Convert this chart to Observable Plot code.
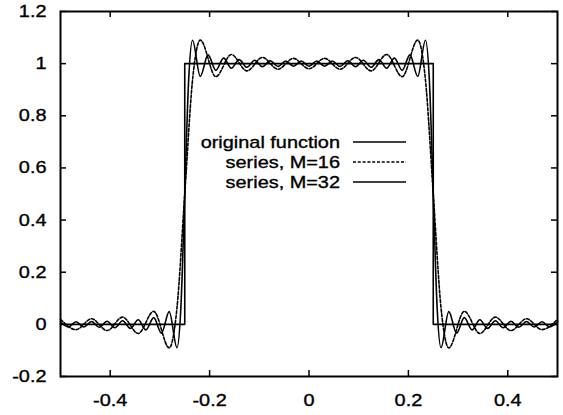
<!DOCTYPE html>
<html><head><meta charset="utf-8">
<script src="https://cdn.jsdelivr.net/npm/d3@7"></script>
<script src="https://cdn.jsdelivr.net/npm/@observablehq/plot@0.6"></script>
<style>
html,body{margin:0;padding:0;background:#fff;}
#wrap{position:relative;width:563px;height:415px;overflow:hidden;}
</style></head><body><div id="wrap"></div>
<script>
// ---- data ----
const origX = [-0.5, -0.25, -0.25, 0.25, 0.25, 0.5];
const origY = [0, 0, 1, 1, 0, 0];

const m16X = [-0.5,-0.46875,-0.4375,-0.40625,-0.375,-0.34375,-0.3125,-0.28125,
  -0.265625,-0.25,-0.234375,
  -0.21875,-0.1875,-0.15625,-0.125,-0.09375,-0.0625,-0.03125,
  0,
  0.03125,0.0625,0.09375,0.125,0.15625,0.1875,0.21875,
  0.234375,0.25,0.265625,
  0.28125,0.3125,0.34375,0.375,0.40625,0.4375,0.46875,0.5];
const m16Y = [0.0198,-0.0202,0.0214,-0.0238,0.0278,-0.0351,0.0499,-0.0902,
  0.0636,0.5,0.9364,
  1.0902,0.9501,1.0351,0.9722,1.0238,0.9786,1.0202,
  0.9802,
  1.0202,0.9786,1.0238,0.9722,1.0351,0.9501,1.0902,
  0.9364,0.5,0.0636,
  -0.0902,0.0499,-0.0351,0.0278,-0.0238,0.0214,-0.0202,0.0198];

const m32X = [-0.5,-0.484375,-0.46875,-0.453125,-0.4375,-0.421875,-0.40625,-0.390625,
  -0.375,-0.359375,-0.34375,-0.328125,-0.3125,-0.296875,-0.28125,-0.265625,
  -0.2578125,-0.25,-0.2421875,
  -0.234375,-0.21875,-0.203125,-0.1875,-0.171875,-0.15625,-0.140625,-0.125,
  -0.109375,-0.09375,-0.078125,-0.0625,-0.046875,-0.03125,-0.015625,
  0,
  0.015625,0.03125,0.046875,0.0625,0.078125,0.09375,0.109375,0.125,
  0.140625,0.15625,0.171875,0.1875,0.203125,0.21875,0.234375,
  0.2421875,0.25,0.2578125,
  0.265625,0.28125,0.296875,0.3125,0.328125,0.34375,0.359375,0.375,
  0.390625,0.40625,0.421875,0.4375,0.453125,0.46875,0.484375,0.5];
const m32Y = [0.0099,-0.0100,0.0102,-0.0104,0.0108,-0.0113,0.0120,-0.0129,
  0.0140,-0.0156,0.0178,-0.0210,0.0257,-0.0336,0.0489,-0.0897,
  0.0637,0.5,0.9363,
  1.0897,0.9511,1.0336,0.9743,1.0210,0.9822,1.0156,0.9860,
  1.0129,0.9880,1.0113,0.9892,1.0104,0.9898,1.0100,
  0.9901,
  1.0100,0.9898,1.0104,0.9892,1.0113,0.9880,1.0129,0.9860,
  1.0156,0.9822,1.0210,0.9743,1.0336,0.9511,1.0897,
  0.9363,0.5,0.0637,
  -0.0897,0.0489,-0.0336,0.0257,-0.0210,0.0178,-0.0156,0.0140,
  -0.0129,0.0120,-0.0113,0.0108,-0.0104,0.0102,-0.0100,0.0099];

const xTicks = [-0.4, -0.2, 0, 0.2, 0.4];
const xTickLabels = ["-0.4", "-0.2", "0", "0.2", "0.4"];
const yTicks = [-0.2, 0, 0.2, 0.4, 0.6, 0.8, 1, 1.2];
const yTickLabels = ["-0.2", "0", "0.2", "0.4", "0.6", "0.8", "1", "1.2"];
const legendLabels = ["original function", "series, M=16", "series, M=32"];
const legendDash = [null, "3,1.8", null];

// ---- layout ----
const W = 563, H = 415, mL = 60, mR = 6, mT = 11, mB = 39;
const innerW = W - mL - mR, innerH = H - mT - mB, tk = 6;
const STRETCH = 1.17;
const LW = 1.6;

const orig = origX.map((x, i) => ({x, y: origY[i]}));
const s16 = m16X.map((x, i) => ({x, y: m16Y[i]}));
const s32 = m32X.map((x, i) => ({x, y: m32Y[i]}));

const chart = Plot.plot({
  width: W, height: H,
  marginLeft: mL, marginRight: mR, marginTop: mT, marginBottom: mB,
  style: {fontFamily: "'Liberation Sans', Arial, sans-serif", fontSize: "17px", color: "black", background: "white"},
  x: {domain: [-0.5, 0.5]},
  y: {domain: [-0.2, 1.2]},
  marks: [
    Plot.line(orig, {x: "x", y: "y", stroke: "black", strokeWidth: LW}),
    Plot.line(s16, {x: "x", y: "y", stroke: "black", strokeWidth: LW, strokeDasharray: "3,1.8", curve: "monotone-x"}),
    Plot.line(s32, {x: "x", y: "y", stroke: "black", strokeWidth: LW, curve: "monotone-x"}),
    Plot.tickX(xTicks, {x: d => d, insetTop: innerH - tk, stroke: "black", strokeWidth: 1.5}),
    Plot.tickX(xTicks, {x: d => d, insetBottom: innerH - tk, stroke: "black", strokeWidth: 1.5}),
    Plot.tickY(yTicks, {y: d => d, insetRight: innerW - tk, stroke: "black", strokeWidth: 1.5}),
    Plot.tickY(yTicks, {y: d => d, insetLeft: innerW - tk, stroke: "black", strokeWidth: 1.5}),
    Plot.axisX(xTicks, {tickSize: 0, tickPadding: 17, label: null, tickFormat: d => xTickLabels[xTicks.indexOf(d)], fill: "black"}),
    Plot.axisY(yTicks, {tickSize: 0, tickPadding: 14, label: null, tickFormat: d => yTickLabels[yTicks.indexOf(d)], fill: "black"}),
    Plot.frame({stroke: "black", strokeWidth: 2})
  ]
});
document.getElementById("wrap").appendChild(chart);

// legend (inside the plot, gnuplot-style key)
const svg = d3.select(chart);
const key = svg.append("g").attr("font-family", "'Liberation Sans', Arial, sans-serif").attr("font-size", 17);
legendLabels.forEach((lab, i) => {
  const cy = 142 + i * 20;
  key.append("text").attr("x", 340).attr("y", cy + 6).attr("text-anchor", "end").attr("fill", "black").text(lab);
  const ln = key.append("line").attr("x1", 353).attr("x2", 406).attr("y1", cy).attr("y2", cy)
    .attr("stroke", "black").attr("stroke-width", LW);
  if (legendDash[i]) ln.attr("stroke-dasharray", legendDash[i]);
});

// horizontally stretch and slightly embolden text like the reference raster
chart.querySelectorAll("text").forEach(t => {
  const L = t.getComputedTextLength();
  if (L > 0) { t.setAttribute("textLength", (L * STRETCH).toFixed(2)); t.setAttribute("lengthAdjust", "spacingAndGlyphs"); }
  t.setAttribute("stroke", "black");
  t.setAttribute("stroke-width", "0.35");
});
</script>
</body></html>
